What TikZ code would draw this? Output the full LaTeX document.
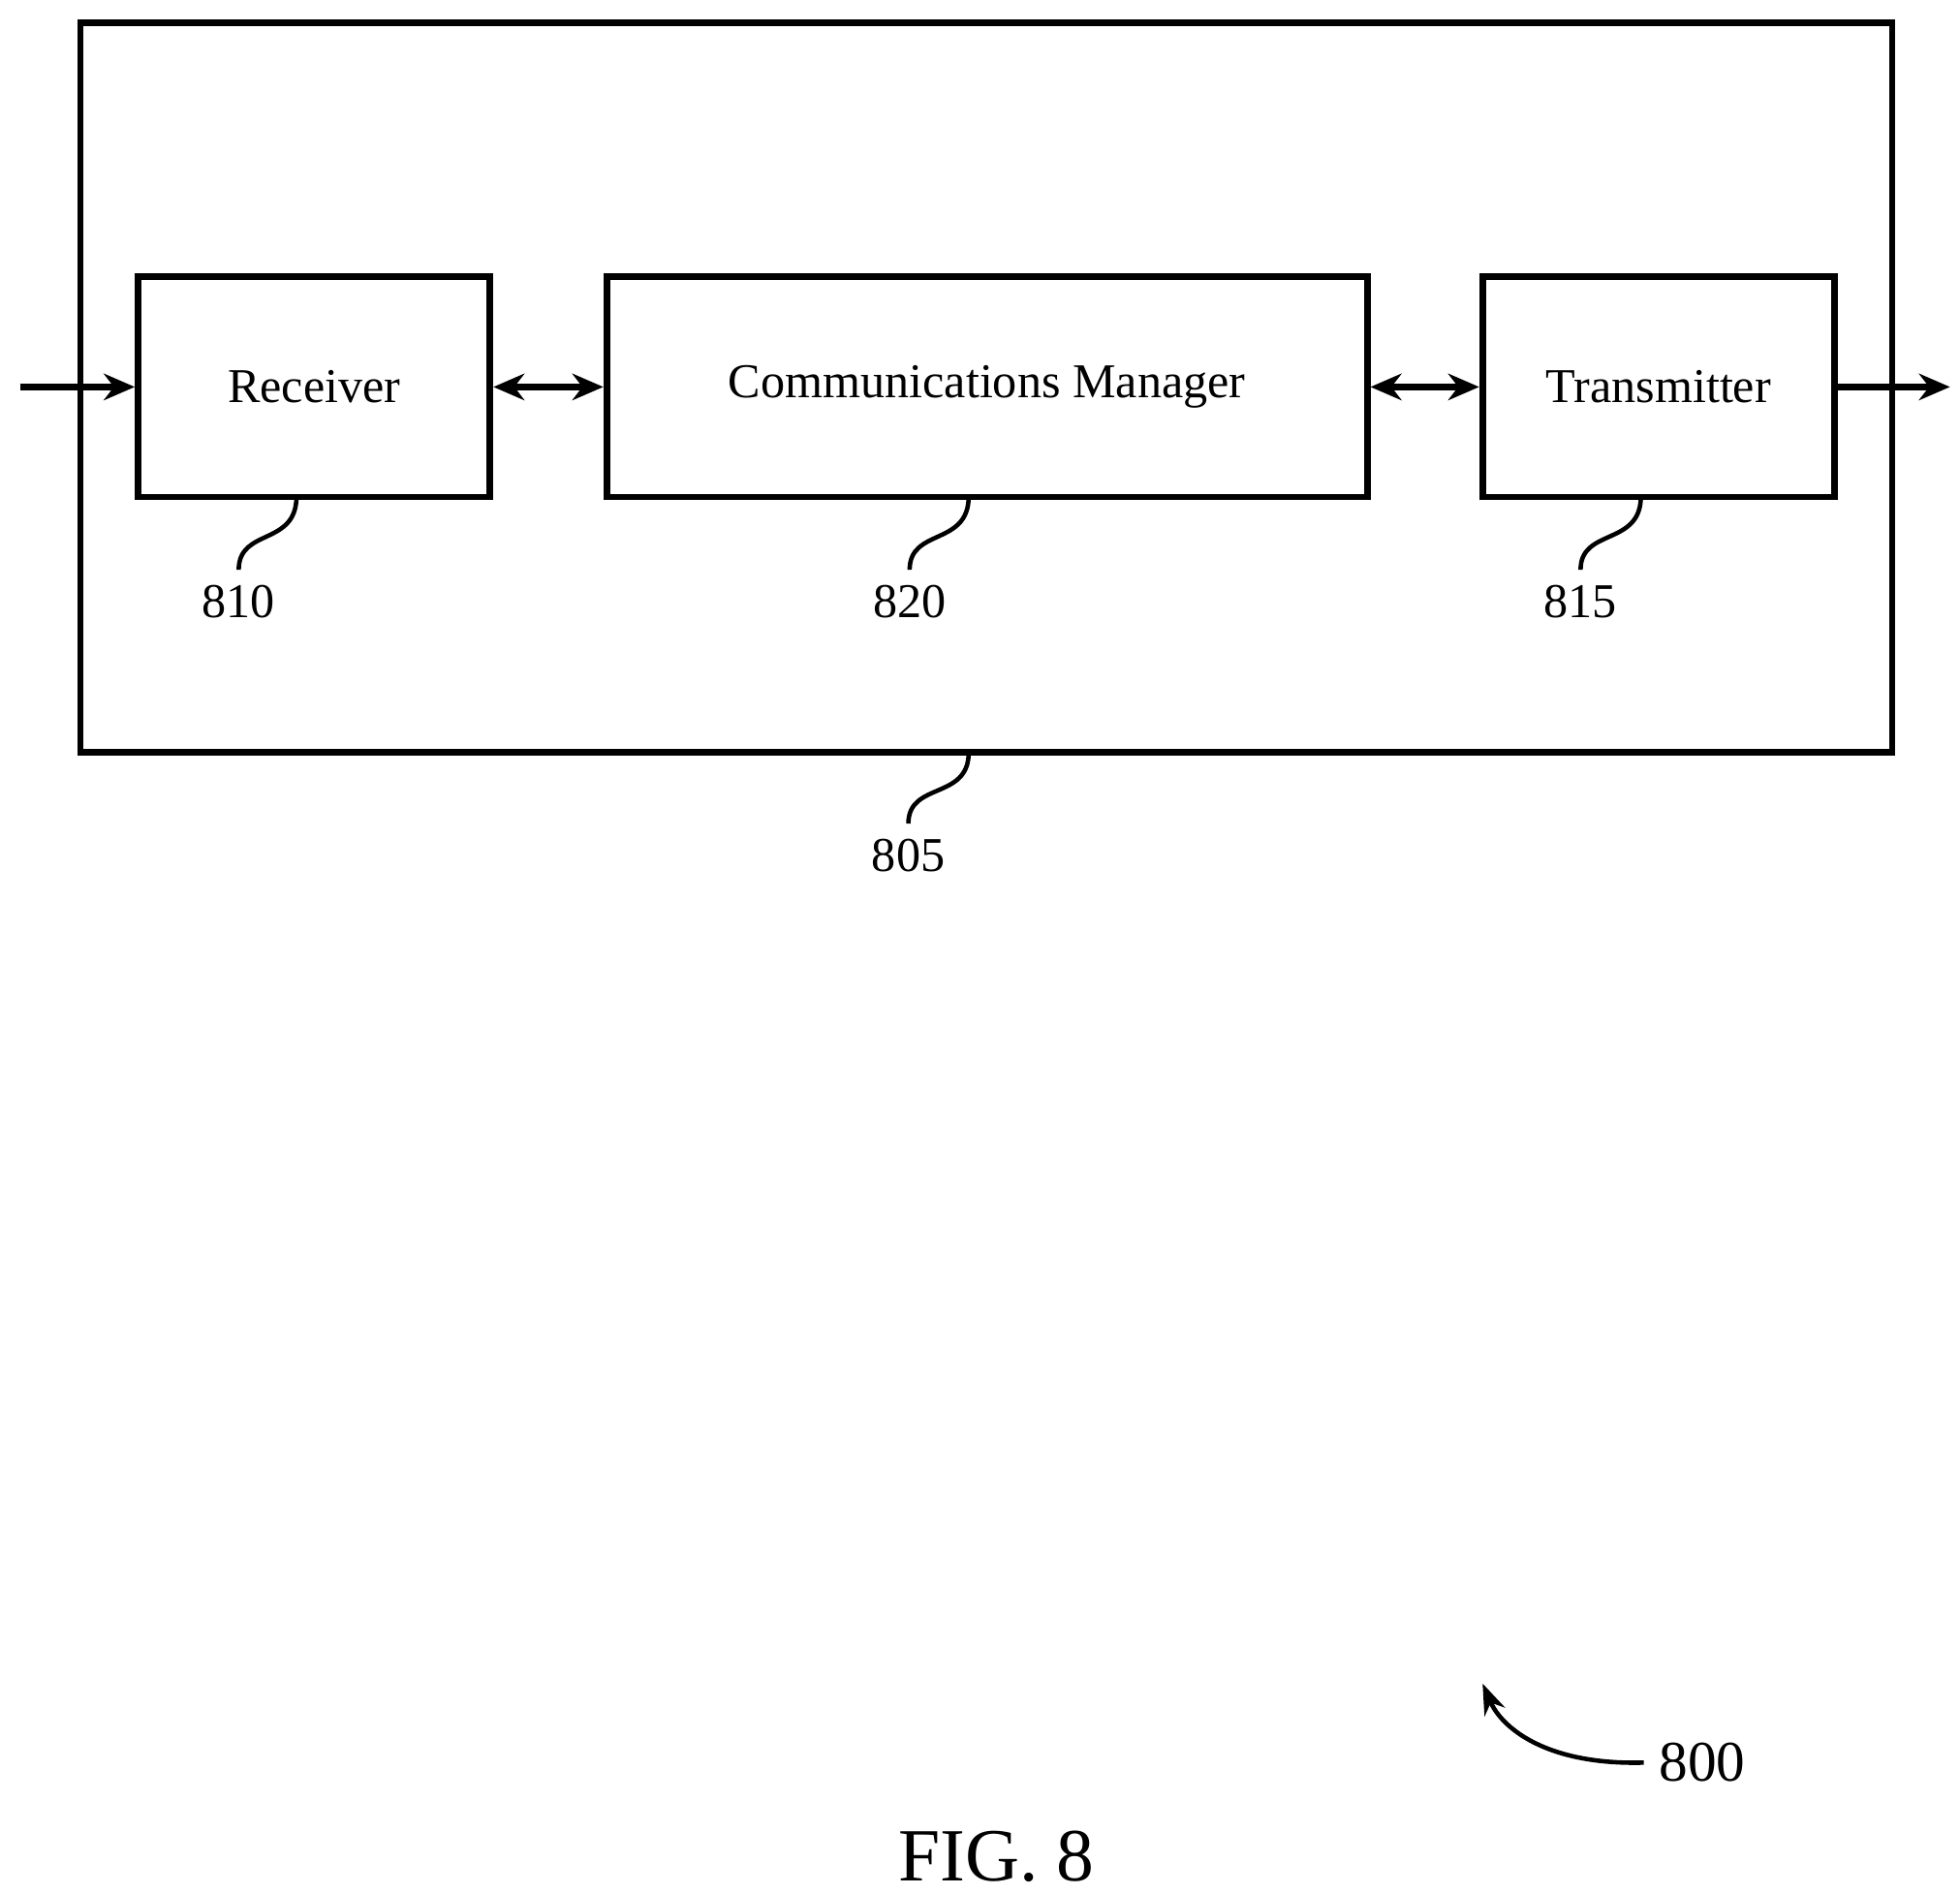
\documentclass[tikz,border=0pt]{standalone}
\usepackage{fontspec}
\setmainfont{Liberation Serif}
\usetikzlibrary{arrows.meta}
\begin{document}
\begin{tikzpicture}[x=0.01cm,y=-0.01cm,
 blk/.style={draw,line width=1.5pt,minimum height=1.75cm,inner sep=0pt,font=\fontsize{11}{11}\selectfont},
 lbl/.style={font=\fontsize{11}{11}\selectfont},
 arr/.style={line width=1.5pt,-{Stealth[length=7pt,width=6pt]}},
 darr/.style={line width=1.5pt,{Stealth[length=7pt,width=6pt]}-{Stealth[length=7pt,width=6pt]}},
 lead/.style={line width=1pt}]
\useasboundingbox (0,0) rectangle (1560,1507);
\draw[line width=1.5pt] (64,18) rectangle (1506,599);
\node[blk,minimum width=2.8cm] (rx) at (250,308) {Receiver};
\node[blk,minimum width=6.05cm] (cm) at (785.5,308) {Communications Manager};
\node[blk,minimum width=2.8cm] (tx) at (1320,308) {Transmitter};
\coordinate (in) at (16,308);
\coordinate (out) at (1552,308);
\draw[arr] (in) -- (rx.west);
\draw[darr] (rx.east) -- (cm.west);
\draw[darr] (cm.east) -- (tx.west);
\draw[arr] (tx.east) -- (out);
\node[lbl] (l810) at (190,479) {810};
\node[lbl] (l820) at (724,479) {820};
\node[lbl] (l815) at (1258,479) {815};
\node[lbl] (l805) at (723,681) {805};
\coordinate (b805) at (771,599);
\draw[lead] (236,395) .. controls (236,435) and (190,420) .. (l810.north);
\draw[lead] (771,395) .. controls (771,435) and (724,420) .. (l820.north);
\draw[lead] (1306,395) .. controls (1306,435) and (1258,420) .. (l815.north);
\draw[lead] (b805) .. controls (771,637) and (723,622) .. (l805.north);
\node[lbl,font=\fontsize{13}{13}\selectfont] (l800) at (1355,1403) {800};
\draw[line width=1pt,-{Stealth[length=7pt,width=5pt]}] (l800.west) .. controls (1230,1405) and (1195,1375) .. (1180,1340);
\node[font=\fontsize{17}{17}\selectfont] (fig) at (793,1478) {FIG. 8};
\end{tikzpicture}
\end{document}
